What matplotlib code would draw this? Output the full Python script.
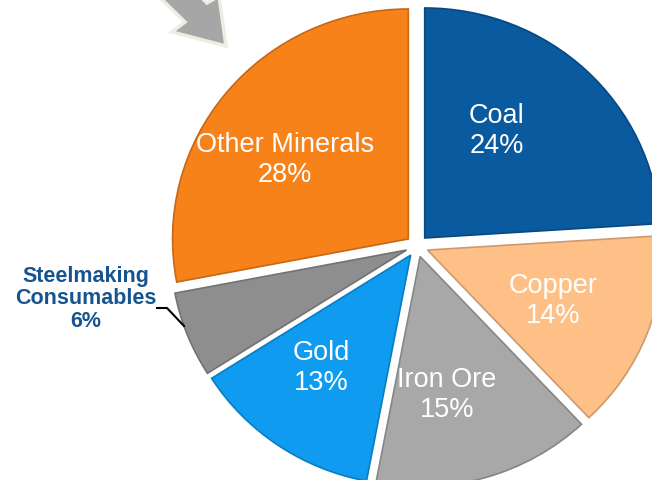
import numpy as np
import matplotlib.pyplot as plt
from matplotlib.patches import Polygon
from matplotlib.colors import to_rgb
from matplotlib.transforms import Affine2D

plt.rcParams['font.family'] = ['Liberation Sans', 'DejaVu Sans']

names = ['Coal', 'Copper', 'Iron Ore', 'Gold', 'Steelmaking\nConsumables', 'Other Minerals']
shares = [24, 14, 15, 13, 6, 28]
colors = ['#0A5AA0', '#FFC088', '#A8A8A8', '#0E9BF0', '#8E8E8E', '#F7821A']

# label centres in pixel coordinates (figure is drawn in px units, y down)
label_xy = [(497, 131), (553, 301), (447, 395), (321, 368), (86, 299), (285, 160)]

def darker(c, f=0.8):
    return tuple(v * f for v in to_rgb(c))

fig = plt.figure(figsize=(6.52, 4.8), dpi=100)
ax = fig.add_axes([0, 0, 1, 1])

center = (417, 246)
wedges, _ = ax.pie(shares, colors=colors, startangle=-90, counterclock=True,
                   radius=230, center=center, explode=[11] * len(shares),
                   wedgeprops=dict(linewidth=1.2))

ax.set_xlim(0, 652)
ax.set_ylim(480, 0)
ax.set_aspect('equal')
ax.axis('off')

# the original pie is a touch wider than tall
stretch = Affine2D().translate(-center[0], -center[1]).scale(1.025, 1).translate(*center)
for w, c in zip(wedges, colors):
    w.set_edgecolor(darker(c))
    w.set_transform(stretch + ax.transData)

for i in range(len(names)):
    x, y = label_xy[i]
    if i == 4:
        ax.text(x, y, f'{names[i]}\n{shares[i]}%', ha='center', va='center',
                color='#17548F', fontsize=15.5, fontweight='bold', linespacing=1.1)
    else:
        ax.text(x, y, f'{names[i]}\n{shares[i]}%', ha='center', va='center',
                color='white', fontsize=19.5, linespacing=1.22)

# leader line for the small slice
ax.plot([157, 167, 184], [308, 308, 326], color='black', lw=1.5)

# grey block arrow in the top-left corner
arrow = Polygon([(150, -12), (185, 22), (172, 32), (226, 46), (219, -4), (207, 3), (192, -12)],
                closed=True, facecolor='#A6A6A6', edgecolor='#EEEDE3', lw=2.5)
ax.add_patch(arrow)

fig.savefig('out.png', dpi=100)
